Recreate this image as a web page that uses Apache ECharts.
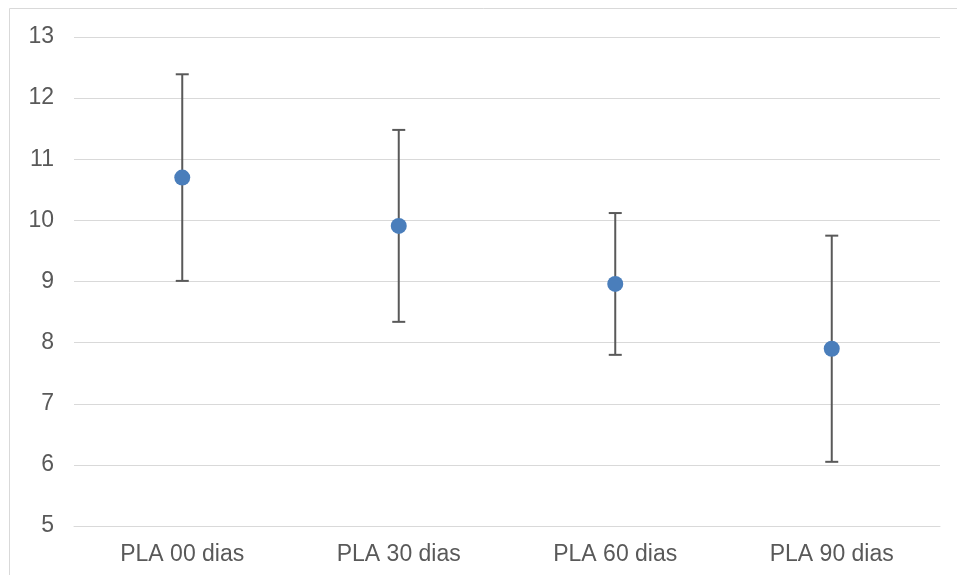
<!DOCTYPE html>
<html>
<head>
<meta charset="utf-8">
<script src="https://cdn.jsdelivr.net/npm/echarts@6/dist/echarts.min.js"></script>
<style>
html,body{margin:0;padding:0;background:#fff;}
#chart{width:957px;height:575px;}
</style>
</head>
<body>
<div id="chart"></div>
<script>
var categories = ['PLA 00 dias', 'PLA 30 dias', 'PLA 60 dias', 'PLA 90 dias'];
var means = [10.70, 9.91, 8.96, 7.90];
var lowers = [9.01, 8.34, 7.80, 6.05];
var uppers = [12.39, 11.48, 10.12, 9.75];

var errData = categories.map(function (c, i) { return [i, lowers[i], uppers[i]]; });

var chart = echarts.init(document.getElementById('chart'), null, {renderer: 'canvas'});
var font = 'Liberation Sans, Arial, sans-serif';
chart.setOption({
  animation: false,
  backgroundColor: '#fff',
  graphic: [{
    type: 'rect', left: 9, top: 8, z: -10,
    shape: {x: 0, y: 0, width: 1000, height: 1000},
    style: {fill: '#fff', stroke: '#d9d9d9', lineWidth: 1}
  }],
  grid: {left: 74, right: 17, top: 37, bottom: 49, containLabel: false},
  xAxis: {
    type: 'category',
    data: categories,
    axisLine: {show: true, lineStyle: {color: '#d9d9d9', width: 1}},
    axisTick: {show: false},
    axisLabel: {color: '#595959', fontSize: 23, fontFamily: font, margin: 17},
    splitLine: {show: false}
  },
  yAxis: {
    type: 'value',
    min: 5, max: 13, interval: 1,
    axisLine: {show: false},
    axisTick: {show: false},
    axisLabel: {color: '#595959', fontSize: 23, fontFamily: font, margin: 20, padding: [3, 0, 0, 0]},
    splitLine: {lineStyle: {color: '#d9d9d9', width: 1}}
  },
  series: [{
    type: 'custom',
    data: errData,
    z: 2,
    renderItem: function (params, api) {
      var x = api.value(0);
      var lo = api.coord([x, api.value(1)]);
      var hi = api.coord([x, api.value(2)]);
      var hw = 6.5;
      var st = {stroke: '#595959', lineWidth: 2, fill: null};
      return {
        type: 'group',
        children: [
          {type: 'line', shape: {x1: hi[0], y1: hi[1], x2: lo[0], y2: lo[1]}, style: st},
          {type: 'line', shape: {x1: hi[0] - hw, y1: hi[1], x2: hi[0] + hw, y2: hi[1]}, style: st},
          {type: 'line', shape: {x1: lo[0] - hw, y1: lo[1], x2: lo[0] + hw, y2: lo[1]}, style: st}
        ]
      };
    }
  }, {
    type: 'scatter',
    data: means,
    z: 3,
    symbol: 'circle',
    symbolSize: 16,
    itemStyle: {color: '#4a7ebb', opacity: 1}
  }]
});
</script>
</body>
</html>
